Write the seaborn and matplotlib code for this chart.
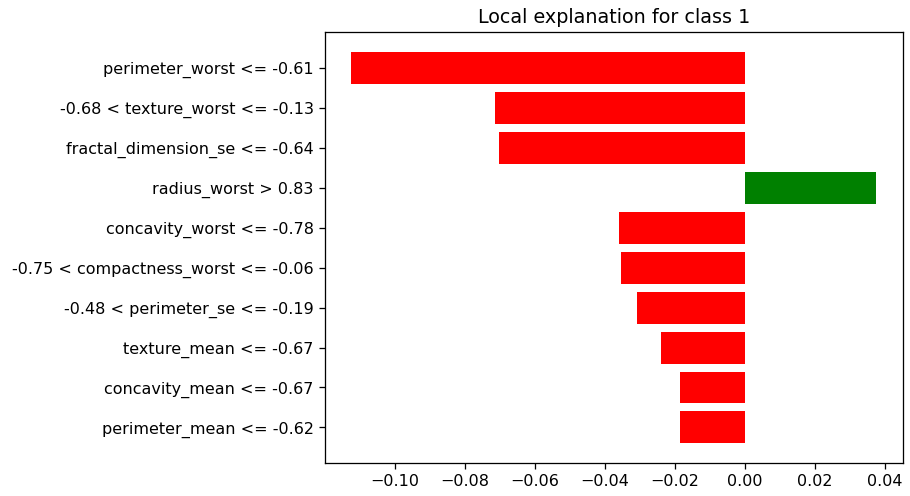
import numpy as np
import pandas as pd
import matplotlib
matplotlib.use("Agg")
import matplotlib.pyplot as plt
import seaborn as sns

# conditions et poids de l'explication locale
features = [
    "perimeter_worst <= -0.61",
    "-0.68 < texture_worst <= -0.13",
    "fractal_dimension_se <= -0.64",
    "radius_worst > 0.83",
    "concavity_worst <= -0.78",
    "-0.75 < compactness_worst <= -0.06",
    "-0.48 < perimeter_se <= -0.19",
    "texture_mean <= -0.67",
    "concavity_mean <= -0.67",
    "perimeter_mean <= -0.62",
]
weights = [-0.1126, -0.0716, -0.0702, 0.0376, -0.0359, -0.0353, -0.0308, -0.0239, -0.0185, -0.0186]

df = pd.DataFrame({"feature": features, "weight": weights})
df["sign"] = np.where(df["weight"] > 0, "pos", "neg")

DPI = 115
fig, ax = plt.subplots(figsize=(910 / DPI, 496 / DPI), dpi=DPI)
fig.subplots_adjust(left=0.357, right=0.992, bottom=0.0665, top=0.935)

sns.barplot(data=df, x="weight", y="feature", hue="sign", orient="h",
            palette={"pos": "green", "neg": "red"}, saturation=1,
            width=0.8, legend=False, dodge=False, ax=ax)

# marges par défaut de matplotlib
n = len(features)
ax.set_ylim(n - 1 + 0.4 + 0.49, -0.4 - 0.49)
lo, hi = min(weights), max(weights)
m = (hi - lo) * 0.05
ax.set_xlim(lo - m, hi + m)
ax.set_xticks([-0.10, -0.08, -0.06, -0.04, -0.02, 0.00, 0.02, 0.04])
ax.set_xlabel("")
ax.set_ylabel("")
ax.set_title("Local explanation for class 1", fontsize=12)

fig.savefig("out.png", dpi=DPI)
